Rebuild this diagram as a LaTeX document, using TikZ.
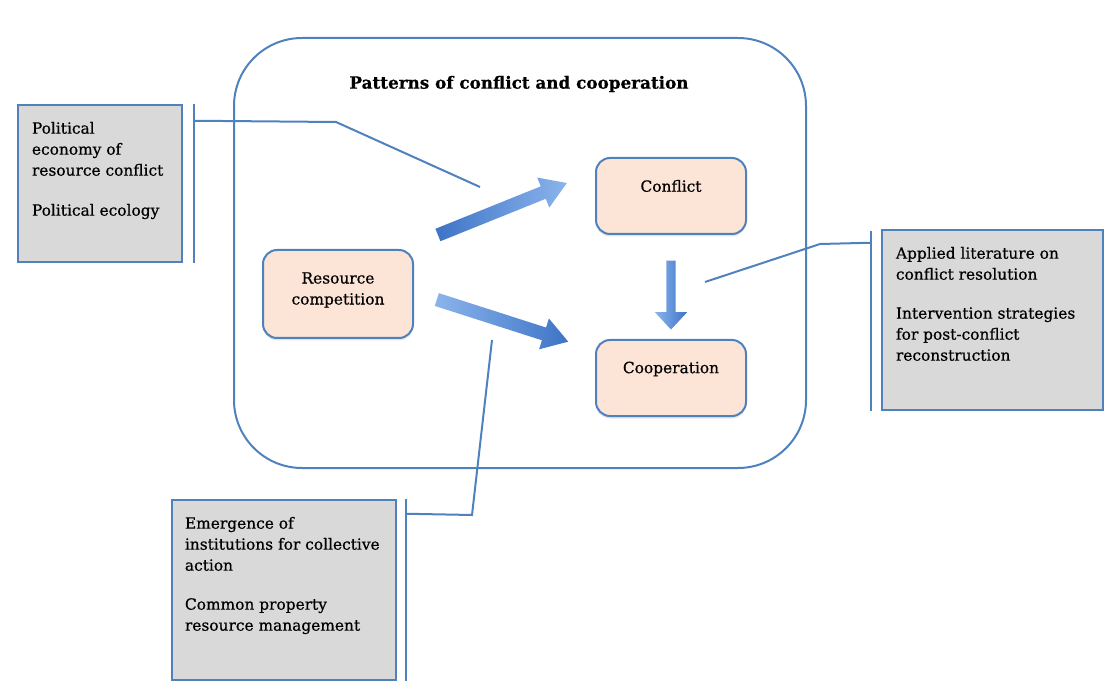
\documentclass[tikz,border=0pt]{standalone}
\usepackage{fontspec}
\setmainfont{DejaVu Serif}[FakeBold=0.6]
\usetikzlibrary{shapes.arrows,shadows,positioning,calc}
\definecolor{edgeblue}{HTML}{4F81BD}
\definecolor{peach}{HTML}{FCE4D6}
\definecolor{notegray}{HTML}{D9D9D9}
\definecolor{arrowlight}{HTML}{8BB4EC}
\definecolor{arrowdark}{HTML}{3E74C6}
\begin{document}
\begin{tikzpicture}[
	x=1pt, y=-1pt,
	font=\fontsize{15.4}{21}\selectfont,
	every node/.style={inner sep=0pt},
	framebox/.style={rectangle, draw=edgeblue, line width=2pt, rounded corners=68pt},
	stage/.style={rectangle, draw=edgeblue, line width=2pt, fill=peach, rounded corners=14pt, minimum width=150pt,
		drop shadow={opacity=0.2, shadow xshift=0pt, shadow yshift=-2.5pt}},
	note/.style={rectangle, draw=edgeblue, line width=2.5pt, fill=notegray},
	notetext/.style={anchor=north west, align=left, xshift=15pt, yshift=-18pt},
	bracket/.style={draw=edgeblue, line width=2pt},
	fatarrow/.style={single arrow, midway, sloped, allow upside down, draw=none,
		text height=13pt, text depth=0pt, minimum width=0pt,
		single arrow head extend=9.5pt, single arrow tip angle=65},
	]
\useasboundingbox (0,0) rectangle (1104,687);

% the frame with the three stages
\node [framebox, minimum width=572pt, minimum height=430pt] (frame) at (520,253) {};
\node [font=\fontsize{16.8}{21}\selectfont\bfseries] (title) at (519,84) {Patterns of conflict and cooperation};

\node [stage, minimum height=76pt] (conf) at (671,196) {};
\node (conf-txt) at ([yshift=10pt]conf.center) {Conflict};
\node [stage, minimum height=76pt] (coop) at (671,378) {};
\node (coop-txt) at ([yshift=9pt]coop.center) {Cooperation};
\node [stage, minimum height=88pt] (comp) at (338,294) {};
\node [align=center] (comp-txt) at ([yshift=4pt]comp.center) {Resource\\competition};

% block arrows between the stages
\coordinate (a1s) at (433,237);
\coordinate (a1e) at (562,185);
\coordinate (a2s) at (432,298);
\coordinate (a2e) at (563,340);
\coordinate (a3s) at ([yshift=-24pt]conf.south);
\coordinate (a3e) at ([yshift=13pt]coop.north);
\path (a1s) -- node [fatarrow, minimum height=139pt, left color=arrowdark, right color=arrowlight] (arr1) {} (a1e);
\path (a2s) -- node [fatarrow, minimum height=138pt, left color=arrowlight, right color=arrowdark] (arr2) {} (a2e);
\path (a3s) -- node [fatarrow, minimum height=69pt, text height=9pt, single arrow head extend=11.5pt,
	single arrow tip angle=86, left color=arrowlight, right color=arrowdark] (arr3) {} (a3e);

% literature boxes
\node [note, minimum width=164pt, minimum height=157pt] (pe) at (100,183.5) {};
\node [notetext] (pe-txt) at (pe.north west) {Political\\economy of\\resource conflict\\[19pt]Political ecology};
\node [note, minimum width=221pt, minimum height=180pt] (lit) at (992.5,320) {};
\node [notetext] (lit-txt) at (lit.north west) {Applied literature on\\conflict resolution\\[18pt]Intervention strategies\\for post-conflict\\reconstruction};
\node [note, minimum width=224pt, minimum height=180pt] (inst) at (284,590) {};
\node [notetext, xshift=-1pt] (inst-txt) at (inst.north west) {Emergence of\\institutions for collective\\action\\[18pt]Common property\\resource management};

% brackets and leader lines
\draw [bracket] ([xshift=11pt]pe.north east) -- ([xshift=11pt]pe.south east);
\coordinate (pe-k) at (336,122);
\coordinate (pe-end) at (480,187);
\draw [bracket] ([xshift=11pt,yshift=-17pt]pe.north east) -- (pe-k) -- (pe-end);

\draw [bracket] ([xshift=-10pt,yshift=-2pt]lit.north west) -- ([xshift=-10pt]lit.south west);
\coordinate (lit-k) at (820,244);
\coordinate (lit-end) at (705,282);
\draw [bracket] ([xshift=-10pt,yshift=-14pt]lit.north west) -- (lit-k) -- (lit-end);

\draw [bracket] ([xshift=9pt]inst.north east) -- ([xshift=9pt]inst.south east);
\coordinate (inst-k) at (472,515);
\coordinate (inst-end) at (492,340);
\draw [bracket] ([xshift=9pt,yshift=-15pt]inst.north east) -- (inst-k) -- (inst-end);
\end{tikzpicture}
\end{document}
